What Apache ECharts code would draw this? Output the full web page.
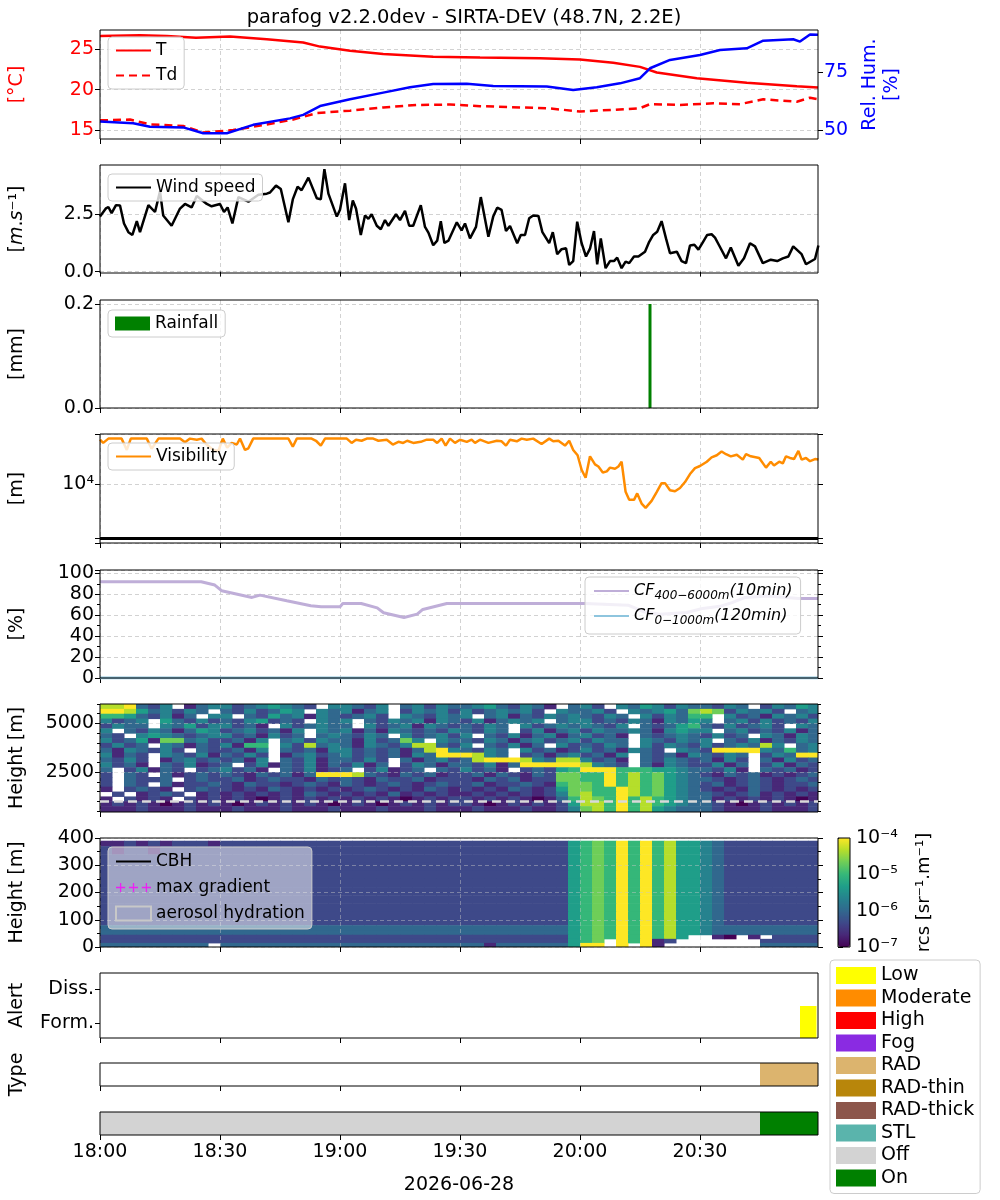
<!DOCTYPE html>
<html>
<head>
<meta charset="utf-8">
<title>parafog</title>
<script src="https://cdn.jsdelivr.net/npm/echarts@6/dist/echarts.min.js"></script>
<style>
html, body { margin: 0; padding: 0; background: #fff; }
#chart { width: 1000px; height: 1200px; }
</style>
</head>
<body>
<div id="chart"></div>
<script>
// all times are minutes after 18:00
var xTickMinutes = [0, 30, 60, 90, 120, 150];
var xTickLabels = ['18:00', '18:30', '19:00', '19:30', '20:00', '20:30'];
var dayLabel = '2026-06-28';

var tempTimes = [0, 10, 16.7, 24, 32.5, 41.7, 50.8, 55, 62.5, 70.8, 83.3, 95, 110, 120, 128.3, 135, 139.2, 149.2, 161.7, 174.2, 179.5];
var tempValues = [26.6, 26.7, 26.6, 26.4, 26.55, 26.2, 25.8, 25.3, 24.8, 24.4, 24.05, 23.95, 23.85, 23.7, 23.3, 22.8, 22.1, 21.4, 20.85, 20.4, 20.25];

var dewTimes = [0, 7.5, 12.5, 20.8, 25.8, 33.3, 41.7, 48.3, 54.2, 62.5, 70.8, 79.2, 87.5, 95, 111.7, 120, 128.3, 135, 137.5, 145, 153.3, 160, 165.8, 174.2, 177.5, 179.5];
var dewValues = [16.2, 16.3, 15.7, 15.5, 14.7, 15.0, 15.7, 16.3, 17.1, 17.4, 17.8, 18.1, 18.15, 17.95, 17.7, 17.3, 17.5, 17.7, 18.2, 18.1, 18.3, 18.2, 18.8, 18.5, 19.0, 18.8];

var rhTimes = [0, 8.3, 12.5, 20.8, 25.8, 31.7, 38.3, 47.5, 50.8, 55, 62.5, 70.8, 77.5, 83.3, 91.7, 98.3, 111.7, 118.3, 124.2, 130, 135, 137.5, 142.5, 150, 155, 161.7, 165.8, 173.3, 175, 177.5, 179.5];
var rhValues = [53.6, 52.9, 51.4, 51.1, 48.6, 48.6, 52.2, 55, 56.5, 60.3, 63.2, 66.1, 68.4, 69.8, 69.9, 69, 68.7, 67.2, 68.4, 70.1, 72.3, 76.6, 80.2, 82.3, 84.5, 85.2, 88.5, 89.1, 88.1, 91.2, 91];

var windTimes = [0, 1.5, 2.1, 2.9, 4, 5, 6, 7.1, 8.1, 9.2, 10, 12.1, 13.75, 15, 15.8, 17.9, 20, 21.25, 22.9, 24.2,
  26.7, 27.9, 30, 31, 31.9, 33.1, 34.6, 37.1, 39.6, 41.7, 42.5, 44, 45.2, 47.1, 48.2, 49.4, 50.4, 52.1, 54.2, 55.2,
  56.1, 57.1, 59.2, 60, 61.25, 62.3, 63.2, 64, 65.2, 66.25, 67.1, 67.9, 69.2, 70.2, 71.25, 72.1, 74, 75, 76.25, 77.3,
  78.3, 80.2, 81.25, 82.1, 83.3, 84.3, 85.2, 86.1, 87.1, 89.2, 90.4, 91.25, 92.5, 94, 95.2, 97.1, 98.3, 99.3, 100.4, 101.5,
  102.5, 104.3, 105.2, 106.25, 107.3, 108.3, 109.6, 110.6, 112.3, 113.2, 114.3, 115.4, 116.5, 117.3, 118.3, 119.3, 120.4, 121.5, 122.5, 123.5,
  124.3, 125.2, 126.4, 127.5, 128.5, 129.3, 130.4, 131.4, 132.3, 133.5, 134.6, 136.25, 137.3, 138.3, 139.3, 140.4, 141.5, 142.5, 144.2, 145.4,
  146.5, 147.5, 148.6, 149.6, 150.7, 151.8, 152.9, 153.75, 154.8, 156.5, 157.7, 159.6, 161, 162.5, 163.75, 165.7, 167.7, 169.3, 170.7, 172.1,
  173.3, 175.4, 176.5, 178.75, 179.6];
var windValues = [2.4, 2.76, 2.82, 2.55, 2.9, 2.88, 2.1, 1.72, 1.6, 2.2, 1.72, 2.9, 2.6, 3.5, 2.45, 2.0, 2.75, 2.95, 2.8, 3.3,
  2.95, 2.85, 2.95, 2.6, 2.8, 2.1, 3.25, 3.05, 3.35, 3.4, 3.45, 3.75, 3.6, 2.15, 3.15, 3.7, 3.55, 4.1, 3.2, 3.15,
  4.47, 3.4, 2.4, 2.7, 3.85, 2.25, 3.1, 2.75, 1.6, 2.45, 2.3, 2.5, 2.0, 1.85, 2.25, 2.0, 2.5, 2.25, 2.65, 2.0,
  2.0, 2.9, 1.95, 1.7, 1.15, 1.35, 2.2, 1.25, 1.35, 2.15, 1.8, 2.1, 1.45, 1.95, 3.25, 1.52, 2.4, 2.79, 2.69, 1.77,
  1.99, 1.24, 1.6, 1.6, 2.33, 2.45, 2.43, 1.72, 1.24, 1.72, 0.76, 0.98, 1.02, 0.29, 0.46, 2.18, 1.24, 0.66, 1.0, 1.77,
  0.32, 1.45, 0.15, 0.46, 0.46, 0.61, 0.15, 0.44, 0.37, 0.66, 0.66, 0.87, 1.3, 1.6, 1.74, 2.2, 1.45, 0.8, 0.87, 0.46,
  0.37, 1.14, 1.17, 0.96, 1.28, 1.6, 1.63, 1.48, 1.14, 0.58, 1.05, 0.26, 0.58, 1.24, 1.1, 0.37, 0.52, 0.46, 0.58, 0.66,
  1.1, 0.76, 0.32, 0.55, 1.14];

var rainTimes = [137.5];
var rainValues = [0.2];

var visTimes = [0, 0.8, 2.1, 5.4, 6.7, 7.7, 11.7, 12.9, 14.6, 20, 21.25, 22.5, 24.2, 25.4, 26.5, 28.3, 29.6, 30.7, 31.8, 32.9,
  34.2, 35, 36.25, 37.1, 38.3, 47.1, 48.2, 49.2, 52.9, 54, 55.2, 56.25, 61.7, 62.9, 64, 65.4, 66.7, 68.3, 69.6, 71.7,
  73.2, 74.6, 75.8, 76.8, 78.3, 80.2, 81.7, 83.3, 84.3, 85.4, 86.4, 87.5, 88.75, 90, 91.7, 92.9, 93.75, 95, 97.1, 99.2,
  100.4, 101.5, 102.5, 104.2, 105.4, 106.7, 108.3, 110.4, 112.3, 113.3, 114.6, 116.25, 117.3, 118.3, 119.4, 120.4, 121.4, 122.5, 123.75, 124.6,
  125.7, 126.7, 127.5, 128.75, 129.6, 130.4, 131.4, 132.3, 133.5, 134.3, 135.4, 136.4, 137.9, 139.2, 140.4, 141.25, 142.5, 143.75, 145, 146.25,
  147.5, 148.75, 150, 151.7, 152.9, 154.2, 155.4, 156.5, 157.7, 159.2, 160.7, 161.5, 162.7, 164.8, 166.5, 167.7, 168.5, 169.8, 170.7, 171.5,
  172.5, 173.5, 174.6, 175.4, 176.5, 177.5, 178.75, 179.6];
var visValues = [67600, 58900, 70800, 70800, 43600, 70800, 70800, 45700, 70800, 70800, 60300, 70800, 67600, 70800, 56200, 43600, 41700, 70800, 47900, 58900,
  55000, 70800, 43600, 46800, 70800, 70800, 50100, 70800, 70800, 64600, 52500, 70800, 70800, 58900, 67600, 64600, 70800, 70800, 64600, 67600,
  55000, 61700, 58900, 64600, 58900, 61700, 67600, 67600, 58900, 70800, 52500, 70800, 58900, 67600, 61700, 67600, 58900, 67600, 58900, 64600,
  63100, 52500, 67600, 63100, 70800, 67600, 70800, 56200, 70800, 63100, 64600, 52500, 64600, 43600, 34700, 18600, 13200, 33100, 23400, 21400,
  16600, 17400, 20400, 19500, 21400, 26300, 7240, 5130, 5130, 6760, 4370, 3630, 4900, 7240, 10500, 10500, 7760, 7410, 8510, 11000,
  15500, 20000, 21900, 26300, 31600, 34700, 40700, 36300, 33100, 35500, 28800, 36300, 33100, 30900, 20400, 26300, 22400, 26300, 24500, 33100,
  30900, 29500, 41700, 28800, 30900, 26900, 29500, 28800];
var visThreshold = 1000;

var cfTimes = [0, 25.3, 28.7, 30.4, 38, 40, 46.7, 52.7, 55.3, 60, 60.7, 65.3, 69.3, 70.9, 76, 79.3, 80.7, 86.7, 121.3, 132, 136, 140, 146.7, 150.7, 155, 158, 161.3, 166.7, 174.7, 179.5];
var cfHighValues = [92, 92, 88.8, 83.4, 77, 79.2, 73.8, 69, 68, 68, 71.2, 71.2, 67, 62.3, 57.8, 61, 65.5, 71.2, 71.2, 69.6, 63.3, 61, 62.6, 66.5, 68.5, 72, 77, 78.3, 76, 76];
var cfLowTimes = [0, 179.5];
var cfLowValues = [0, 0];

// backscatter, 3 min columns; digit d = log10(rcs) of -7 + d/3, '.' = no data. rows listed top to bottom
var heat1Edges = [450, 750, 1000, 1250, 1500, 1750, 2000, 2250, 2500, 2750, 3000, 3250, 3500, 3750, 4000, 4250, 4500, 4750, 5000, 5250, 5500, 5750, 6000];
var heat1Rows = [
  "889324.134 42345432.4 4324.34243 34532431.3 42.4354243 3243.24354",
  "998534243. 3242354.43 4134.24342 4234342.43 342.434537 8724342.34",
  "66532413.4 4.32534143 2342.43243 4.34132434 3243.42436 6.42314342",
  "4234.53242 3245232.43 4.32434143 2413434.34 4232431435 4.34242324",
  "2433.43524 4231.42343 3.42341432 3243.42343 4324.32356 3242342.43",
  "4.32431354 2342314.43 4131432324 3243.24134 2433431454 4.34232413",
  "32.4543234 4231423.34 3243.42342 4.32413413 4231.32343 2423.43143",
  "4235177342 2314.34243 3142374.43 3243134234 2433.43243 4.32413243",
  "2423.43132 4166.42834 3143248832 4.32413.42 3243.42432 4234384.34",
  "3143242.32 2314.32314 4232313894 3243.42312 4231432.43 2999943634",
  "4132.43241 3242.13423 4232314399 9843.23134 2314.32314 3243.24399",
  "3242.13423 2314.32413 3242.31342 3899984388 4231.32432 3142.31423",
  "4231.32412 3.24132413 2413.24313 3241399999 8432.31432 2413.24132",
  "3.24132.23 4231.32412 3.24123.32 4231.23256 9996665543 3241.32312",
  "2.32.31232 3213231399 9832132312 2313213277 6696867543 2132312123",
  "2.3223.232 2312322132 3213223122 2132312277 6696867543 3212321232",
  "2.32.31223 2132212321 3212321232 2312232167 7696867543 2312321223",
  "1.2321.232 2121321212 1232121321 2121321257 7669867543 2121321212",
  ".2.1232.12 1212121321 2121312121 1212121247 8669867543 3212312121",
  "1.2121.212 1210121212 1212101212 2121210136 8769686543 3121212101",
  "1212101212 1012121210 1210121212 2101212125 8869686543 3210121212",
  "1112111211 1211121112 1112111211 1211121124 7869685433 3211121112"
];
var heat1Line = 1000;
var heat1MajorTicks = [2500, 5000];
var heat1MinorTicks = [500, 1000, 1500, 2000, 2500, 3000, 3500, 4000, 4500, 5000, 5500, 6000];

var heat2Edges = [0, 15, 30, 45, 60, 80, 100, 130, 160, 190, 220, 250, 280, 310, 340, 370, 390];
var heat2Rows = [
  "1121212221 2222222222 2222222222 2222222225 6769696855 4322222222",
  "2122122222 2222222222 2222222222 2222222225 6769696855 4322222222",
  "2222222222 2222222222 2222222222 2222222225 6769696855 4322222222",
  "2222222222 2222222222 2222222222 2222222225 6769696855 4322222222",
  "2222222222 2222222222 2222222222 2222222225 6769696855 4322222222",
  "2222222222 2222222222 2222222222 2222222225 6769696855 4322222222",
  "2222222222 2222222222 2222222222 2222222225 6769696855 4322222222",
  "2222222222 2222222222 2222222222 2222222225 6769696855 4322222222",
  "2222222222 2222222222 2222222222 2222222225 6769696855 4322222222",
  "2222222222 2222222222 2222222222 2222222225 6769696855 4322222222",
  "2222222222 2222222222 2222222222 2222222225 6769696855 4322222222",
  "3333333333 3333333333 3333333333 3333333335 6769696855 4333333333",
  "3333333333 3333333333 3333333333 3333333335 6769696855 4333333333",
  "2222222222 2222222222 2222222222 2222222225 676969685. .10.1.2222",
  "2222222222 2222222222 2222222222 2222222225 67.96912.. .....22222",
  "333333333. 3333333333 3333333333 3313333335 99.9.91... .....33333"
];
var heatColumnMinutes = 3;

var alertStart = [175];
var alertEnd = [179];
var alertLevel = [1.5];
var alertTickValues = [1, 2];
var alertTickLabels = ['Form.', 'Diss.'];
var typeStart = [165];
var typeEnd = [179.5];
var stateNames = ['Off', 'On'];
var stateStart = [0, 165];
var stateEnd = [165, 179.5];

var classNames = ['Low', 'Moderate', 'High', 'Fog', 'RAD', 'RAD-thin', 'RAD-thick', 'STL', 'Off', 'On'];
var classColors = ['#ffff00', '#ff8c00', '#ff0000', '#8a2be2', '#dcb46e', '#b8860b', '#8c564b', '#5ab4ac', '#d3d3d3', '#008000'];

var viridis = ['#440154', '#482878', '#3e4989', '#31688e', '#26828e', '#1f9e89', '#35b779', '#6ece58', '#b5de2b', '#fde725'];

var FONT = 'DejaVu Sans';
var TICK_FONT = 19;
var TIME_MAX = 179.5;
var ALERT_MIN = 0.56;

function pairs(xs, ys) {
  var out = [];
  for (var i = 0; i < Math.min(xs.length, ys.length); i++) out.push([xs[i], ys[i]]);
  return out;
}

function cells(rows, edges) {
  var out = [];
  var n = rows.length;
  for (var i = 0; i < n; i++) {
    var row = rows[i].replace(/ /g, '');
    var r = n - 1 - i;
    for (var c = 0; c < row.length; c++) {
      var ch = row.charAt(c);
      if (ch === '.') continue;
      out.push([c * heatColumnMinutes, (c + 1) * heatColumnMinutes, edges[r], edges[r + 1], -7 + Number(ch) / 3]);
    }
  }
  return out;
}

function spans(starts, ends, lows, highs) {
  var out = [];
  for (var i = 0; i < starts.length; i++) out.push([starts[i], ends[i], lows[i], highs[i]]);
  return out;
}

function supNum(n) {
  var map = {'-': '\u207b', '0': '\u2070', '1': '\u00b9', '2': '\u00b2', '3': '\u00b3', '4': '\u2074', '5': '\u2075', '6': '\u2076', '7': '\u2077', '8': '\u2078', '9': '\u2079'};
  return String(n).split('').map(function (c) { return map[c]; }).join('');
}

function renderRect(params, api) {
  var a = api.coord([api.value(0), api.value(3)]);
  var b = api.coord([api.value(1), api.value(2)]);
  return {
    type: 'rect',
    shape: {x: a[0], y: a[1], width: b[0] - a[0] + 0.5, height: b[1] - a[1] + 0.5},
    style: {fill: api.visual('color')}
  };
}

var gridPos = [
  [30, 109], [165, 108], [300, 108], [434, 109], [570, 108],
  [704, 108], [838, 109], [973, 65], [1063, 23], [1112, 23]
];
var grids = gridPos.map(function (p) {
  return {left: 100, width: 718, top: p[0], height: p[1], show: true, borderColor: '#000', borderWidth: 1,
    z: 5, containLabel: false, outerBoundsMode: 'none'};
});
grids.push({left: 838, width: 12, top: 838, height: 109, show: true, borderColor: '#000', borderWidth: 1, z: 5, outerBoundsMode: 'none'});

var gridLine = {color: '#d2d2d2', type: [4, 3], width: 1};
var heatGridLine = {color: 'rgba(200,200,200,0.45)', type: [4, 3], width: 1};

function xAxisFor(i, o) {
  return {
    type: 'value', gridIndex: i, min: 0, max: TIME_MAX, z: o.z || 0,
    axisLine: {show: false},
    axisTick: {show: true, length: 5, customValues: xTickMinutes, lineStyle: {color: '#000'}},
    axisLabel: {show: !!o.labels, customValues: xTickMinutes, fontSize: TICK_FONT, color: '#000', fontFamily: FONT, margin: 8,
      formatter: function (v) { var k = xTickMinutes.indexOf(v); return k < 0 ? '' : xTickLabels[k]; }},
    splitLine: {show: !!o.grid, lineStyle: o.gridStyle || gridLine},
    name: o.name || '', nameLocation: 'middle', nameGap: 41,
    nameTextStyle: {fontSize: TICK_FONT, color: '#000', fontFamily: FONT}
  };
}

function yAxisFor(i, o) {
  return {
    type: o.type || 'value', gridIndex: i, position: o.right ? 'right' : 'left',
    min: o.min, max: o.max, interval: o.interval, z: o.z || 0,
    axisLine: {show: false},
    axisTick: {show: o.ticks !== false, length: o.tickLen || 5, customValues: o.ticksAt, lineStyle: {color: '#000'}},
    minorTick: {show: !!o.minor, splitNumber: 2, length: 3, lineStyle: {color: '#000'}},
    axisLabel: {show: !!o.labels, customValues: o.ticksAt, formatter: o.fmt || function (v) { return String(v); },
      showMaxLabel: o.showMax, showMinLabel: o.showMin,
      fontSize: TICK_FONT, color: o.color || '#000', fontFamily: FONT, margin: 6},
    splitLine: {show: !!o.grid, lineStyle: o.gridStyle || gridLine},
    name: o.name || '', nameLocation: 'middle', nameGap: o.nameGap || 72, nameRotate: 90,
    nameTextStyle: {fontSize: TICK_FONT, color: o.color || '#000', fontFamily: FONT, lineHeight: 22, rich: o.rich}
  };
}

var fixed1 = function (v) { return v.toFixed(1); };

var xAxes = [];
for (var g = 0; g < 10; g++) {
  xAxes.push(xAxisFor(g, {
    labels: g === 9,
    grid: g <= 6,
    gridStyle: g >= 5 ? heatGridLine : gridLine,
    z: g >= 5 && g <= 6 ? 3 : 0,
    name: g === 9 ? dayLabel : ''
  }));
}
xAxes.push({type: 'value', gridIndex: 10, show: false, min: 0, max: 1});

var yAxes = [
  yAxisFor(0, {min: 13.9, max: 27.35, ticksAt: [15, 20, 25], labels: true, grid: true, color: '#ff0000', name: '[\u00b0C]'}),
  yAxisFor(0, {right: true, min: 46.1, max: 93.1, ticksAt: [50, 75], labels: true, color: '#0000ff', name: 'Rel. Hum.\n[%]', nameGap: 38}),
  yAxisFor(1, {min: -0.06, max: 4.65, ticksAt: [0, 2.5], labels: true, grid: true, fmt: fixed1,
    name: '[{i|m}.{i|s}\u207b\u00b9]', rich: {i: {fontStyle: 'italic', fontSize: TICK_FONT, fontFamily: FONT}}}),
  yAxisFor(2, {min: 0, max: 0.2077, ticksAt: [0, 0.2], labels: true, grid: true, fmt: fixed1, name: '[mm]'}),
  yAxisFor(3, {type: 'log', min: 806, max: 86300, labels: true, grid: true, name: '[m]',
    fmt: function (v) { return Math.abs(Math.log(v) / Math.LN10 - 4) < 1e-6 ? '10' + supNum(4) : ''; }}),
  yAxisFor(3, {type: 'log', right: true, min: 806, max: 86300}),
  yAxisFor(4, {min: 0, max: 103.2, interval: 20, labels: true, grid: true, minor: true, showMax: false, name: '[%]'}),
  yAxisFor(4, {right: true, min: 0, max: 103.2, interval: 20, minor: true}),
  yAxisFor(5, {min: 450, max: 6000, ticksAt: heat1MajorTicks, labels: true, grid: true, gridStyle: heatGridLine, z: 3, name: 'Height [m]'}),
  yAxisFor(5, {min: 450, max: 6000, ticksAt: heat1MinorTicks, tickLen: 3}),
  yAxisFor(5, {right: true, min: 450, max: 6000, ticksAt: heat1MinorTicks, tickLen: 3}),
  yAxisFor(6, {min: 0, max: 400, interval: 100, labels: true, grid: true, gridStyle: heatGridLine, minor: true, z: 3, name: 'Height [m]'}),
  yAxisFor(6, {right: true, min: 0, max: 400, interval: 100, minor: true}),
  yAxisFor(7, {min: ALERT_MIN, max: 2.47, ticksAt: alertTickValues, labels: true, name: 'Alert',
    fmt: function (v) { var k = alertTickValues.indexOf(v); return k < 0 ? '' : alertTickLabels[k]; }}),
  yAxisFor(8, {min: 0, max: 1, ticks: false, name: 'Type'}),
  yAxisFor(9, {min: 0, max: 1, ticks: false}),
  {
    type: 'log', gridIndex: 10, position: 'right', min: 1e-7, max: 1e-4,
    axisLine: {show: false}, splitLine: {show: false},
    axisTick: {show: true, length: 5, lineStyle: {color: '#000'}},
    axisLabel: {fontSize: TICK_FONT, color: '#000', fontFamily: FONT, margin: 6,
      formatter: function (v) { return '10' + supNum(Math.round(Math.log(v) / Math.LN10)); }},
    name: 'rcs [sr\u207b\u00b9.m\u207b\u00b9]', nameLocation: 'middle', nameGap: 65, nameRotate: 90,
    nameTextStyle: {fontSize: 18, color: '#000', fontFamily: FONT}
  }
];

var lineBase = {type: 'line', symbol: 'none', showSymbol: false, smooth: false, clip: true};
function lineSeries(name, xi, yi, data, color, width, dash) {
  return Object.assign({}, lineBase, {
    name: name, xAxisIndex: xi, yAxisIndex: yi, data: data,
    lineStyle: {color: color, width: width, type: dash || 'solid'}, itemStyle: {color: color}
  });
}

var series = [];
series.push(lineSeries('T', 0, 0, pairs(tempTimes, tempValues), '#ff0000', 2.5));
series.push(lineSeries('Td', 0, 0, pairs(dewTimes, dewValues), '#ff0000', 2.5, [8, 5]));
series.push(lineSeries('Rel. Hum.', 0, 1, pairs(rhTimes, rhValues), '#0000ff', 2.5));
series.push(lineSeries('Wind speed', 1, 2, pairs(windTimes, windValues), '#000000', 2.5));
series.push({name: 'Rainfall', type: 'bar', xAxisIndex: 2, yAxisIndex: 3, barWidth: 3,
  data: pairs(rainTimes, rainValues), itemStyle: {color: '#008000'}});
var vis = lineSeries('Visibility', 3, 4, pairs(visTimes, visValues), '#ff8c00', 2.5);
vis.markLine = {silent: true, symbol: ['none', 'none'], label: {show: false},
  lineStyle: {color: '#000', width: 3, type: 'solid'}, data: [{yAxis: visThreshold}]};
series.push(vis);
series.push(lineSeries('CF1', 4, 6, pairs(cfTimes, cfHighValues), '#bfaed8', 3));
series.push(lineSeries('CF2', 4, 6, pairs(cfLowTimes, cfLowValues), '#8ec5de', 3));

var heatIndex1 = series.length;
series.push({type: 'custom', name: 'rcs1', xAxisIndex: 5, yAxisIndex: 8, clip: true, renderItem: renderRect,
  dimensions: ['t0', 't1', 'h0', 'h1', 'v'], encode: {x: [0, 1], y: [2, 3]}, data: cells(heat1Rows, heat1Edges),
  markLine: {silent: true, symbol: ['none', 'none'], label: {show: false},
    lineStyle: {color: '#d9d9d9', width: 2.5, type: [9, 5]}, data: [{yAxis: heat1Line}]}});
var heatIndex2 = series.length;
series.push({type: 'custom', name: 'rcs2', xAxisIndex: 6, yAxisIndex: 11, clip: true, renderItem: renderRect,
  dimensions: ['t0', 't1', 'h0', 'h1', 'v'], encode: {x: [0, 1], y: [2, 3]}, data: cells(heat2Rows, heat2Edges)});
series.push(lineSeries('CBH', 6, 11, [], '#000000', 2.5));
series.push({type: 'scatter', name: 'max gradient', xAxisIndex: 6, yAxisIndex: 11, data: [], itemStyle: {color: '#ff00ff'}});
series.push({type: 'custom', name: 'aerosol hydration', xAxisIndex: 6, yAxisIndex: 11, data: [], renderItem: renderRect,
  itemStyle: {color: 'rgba(0,0,0,0)'}});

// alert, type and state bars, one series per class so the big legend can list them
var classData = {
  'Low': {x: 7, y: 13, data: spans(alertStart, alertEnd, [ALERT_MIN], alertLevel)},
  'RAD': {x: 8, y: 14, data: spans(typeStart, typeEnd, [0], [1])},
  'Off': {x: 9, y: 15, data: spans([stateStart[0]], [stateEnd[0]], [0], [1])},
  'On': {x: 9, y: 15, data: spans([stateStart[1]], [stateEnd[1]], [0], [1])}
};
classNames.forEach(function (name, i) {
  var d = classData[name] || {x: 7, y: 13, data: []};
  series.push({type: 'custom', name: name, xAxisIndex: d.x, yAxisIndex: d.y, clip: true,
    encode: {x: [0, 1], y: [2, 3]}, data: d.data, renderItem: renderRect, itemStyle: {color: classColors[i]}});
});

var legendBase = {
  selectedMode: false, orient: 'vertical', itemWidth: 35, itemHeight: 14, itemGap: 8,
  textStyle: {fontSize: 17, color: '#000', fontFamily: FONT},
  backgroundColor: 'rgba(255,255,255,0.8)', borderColor: '#cccccc', borderWidth: 1, borderRadius: 4,
  padding: [5, 7, 5, 7]
};
function legendAt(left, top, data, extra) {
  return Object.assign({}, legendBase, {left: left, top: top, data: data}, extra || {});
}
// line entries: hide the marker ECharts puts in the middle of the line icon
function lineItem(name) { return {name: name, itemStyle: {opacity: 0}}; }
var plusIcon = 'path://M0,4.3h10v1.4h-10z M4.3,0h1.4v10h-1.4z M14,4.3h10v1.4h-10z M18.3,0h1.4v10h-1.4z M28,4.3h10v1.4h-10z M32.3,0h1.4v10h-1.4z';

var cfRich = {
  i: {fontStyle: 'italic', fontSize: 16, fontFamily: FONT, lineHeight: 22, verticalAlign: 'middle'},
  s: {fontStyle: 'italic', fontSize: 12, fontFamily: FONT, lineHeight: 13, verticalAlign: 'bottom'}
};

var legends = [
  legendAt(108, 37, [lineItem('T'), lineItem('Td')]),
  legendAt(108, 174, [lineItem('Wind speed')]),
  legendAt(108, 310, [{name: 'Rainfall', icon: 'rect'}]),
  legendAt(108, 443, [lineItem('Visibility')]),
  legendAt(585, 577, [lineItem('CF1'), lineItem('CF2')], {
    itemGap: 6, padding: [6, 8, 7, 8],
    textStyle: {fontSize: 16, color: '#000', fontFamily: FONT, rich: cfRich},
    formatter: function (name) {
      return name === 'CF1' ? '{i|CF}{s|400\u22126000m}{i|(10min)}' : '{i|CF}{s|0\u22121000m}{i|(120min)}';
    }
  }),
  legendAt(108, 847, [lineItem('CBH'), {name: 'max gradient', icon: plusIcon, itemStyle: {color: '#ff00ff'}},
    {name: 'aerosol hydration', icon: 'rect', itemStyle: {color: 'rgba(0,0,0,0)', borderColor: '#c8c8c8', borderWidth: 2}}],
    {backgroundColor: 'rgba(255,255,255,0.5)', itemGap: 9, padding: [6, 7, 7, 7]}),
  legendAt(830, 960, classNames.map(function (n) { return {name: n, icon: 'rect'}; }), {
    itemWidth: 40, itemHeight: 17, itemGap: 3.5, padding: [6, 6, 6, 6],
    textStyle: {fontSize: 19, color: '#000', fontFamily: FONT}
  })
];

var option = {
  animation: false,
  textStyle: {fontFamily: FONT},
  title: {
    text: 'parafog v2.2.0dev - SIRTA-DEV (48.7N, 2.2E)', left: 459, top: 3, textAlign: 'center',
    textStyle: {fontSize: 19.5, fontWeight: 'normal', color: '#000', fontFamily: FONT}
  },
  grid: grids,
  xAxis: xAxes,
  yAxis: yAxes,
  legend: legends,
  visualMap: {
    type: 'continuous', show: true, min: -7, max: -4, dimension: 4,
    seriesIndex: [heatIndex1, heatIndex2], inRange: {color: viridis},
    left: 838, top: 838, itemWidth: 12, itemHeight: 109, padding: 0,
    calculable: false, hoverLink: false, text: null, z: 4
  },
  series: series
};

var chart = echarts.init(document.getElementById('chart'));
chart.setOption(option);
</script>
</body>
</html>
